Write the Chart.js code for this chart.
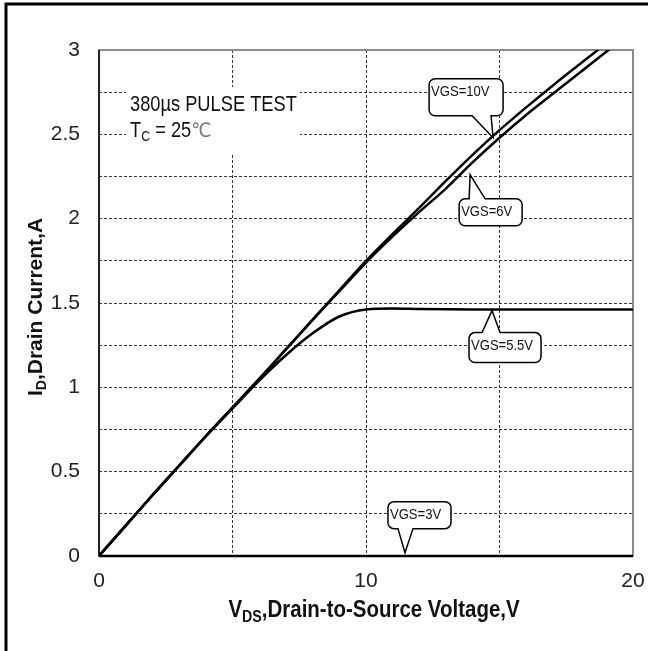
<!DOCTYPE html>
<html lang="en">
<head>
    <meta charset="UTF-8">
    <title>ID vs VDS</title>
    <style>
        * { margin: 0; padding: 0; box-sizing: border-box; }
        body { background: #fff; width: 648px; height: 651px; overflow: hidden; }
        canvas { display: block; }
    </style>
</head>
<body>
    <canvas id="chart" width="648" height="651"></canvas>

    <script src="https://cdn.jsdelivr.net/npm/chart.js"></script>
    <script>
        // values
        const vds = [0, 1, 2, 3, 4, 5, 6, 7, 8, 9, 10, 11, 12, 13, 14, 15, 16, 17, 18, 19, 20];
        const idVgs10 = [0, 0.18, 0.36, 0.535, 0.71, 0.88, 1.05, 1.225, 1.40, 1.575, 1.75, 1.91, 2.065, 2.225, 2.38, 2.525, 2.66, 2.79, 2.915, 3.04, 3.165];
        const idVgs6 = [0, 0.18, 0.36, 0.535, 0.71, 0.88, 1.05, 1.225, 1.40, 1.57, 1.74, 1.895, 2.04, 2.18, 2.335, 2.48, 2.615, 2.74, 2.865, 2.99, 3.11];
        const idVgs55 = [0, 0.18, 0.36, 0.535, 0.71, 0.875, 1.04, 1.19, 1.32, 1.42, 1.462, 1.468, 1.465, 1.463, 1.462, 1.462, 1.462, 1.461, 1.461, 1.461, 1.461];
        const idVgs3 = [0, 0, 0, 0, 0, 0, 0, 0, 0, 0, 0, 0, 0, 0, 0, 0, 0, 0, 0, 0, 0];
        const seriesNames = ['VGS=10V', 'VGS=6V', 'VGS=5.5V', 'VGS=3V'];
        const xTickLabels = [0, 10, 20];
        const yTickLabels = [0, 0.5, 1, 1.5, 2, 2.5, 3];

        const toPoints = arr => vds.map((v, i) => ({ x: v, y: arr[i] }));
        const series = [idVgs10, idVgs6, idVgs55, idVgs3];

        // callout boxes: tip in data units, box/base offsets in px from the tip
        const callouts = [
            { tip: [14.76, 2.48], box: [-64, -59, 10, -22], base: [-21, -2], side: 'bottom' },
            { tip: [13.9, 2.26], box: [-11, 24, 52, 51], base: [-1, 15], side: 'top' },
            { tip: [14.72, 1.455], box: [-23, 22, 49, 52], base: [-10, 8], side: 'top' },
            { tip: [11.46, 0.02], box: [-17, -51, 46, -24], base: [-7, 8], side: 'bottom' }
        ];

        function calloutPath(ctx, l, t, r, b, rad, side, b1, b2, tx, ty) {
            ctx.beginPath();
            ctx.moveTo(l + rad, t);
            if (side === 'top') {
                ctx.lineTo(b1, t);
                ctx.lineTo(tx, ty);
                ctx.lineTo(b2, t);
            }
            ctx.arcTo(r, t, r, b, rad);
            ctx.arcTo(r, b, l, b, rad);
            if (side === 'bottom') {
                ctx.lineTo(b2, b);
                ctx.lineTo(tx, ty);
                ctx.lineTo(b1, b);
            }
            ctx.arcTo(l, b, l, t, rad);
            ctx.arcTo(l, t, r, t, rad);
            ctx.closePath();
        }

        // text squeezed horizontally (the reference fonts are narrow)
        function drawText(ctx, text, x, y, font, sx) {
            ctx.save();
            ctx.font = font;
            ctx.translate(x, y);
            ctx.scale(sx, 1);
            ctx.fillText(text, 0, 0);
            const w = ctx.measureText(text).width * sx;
            ctx.restore();
            return w;
        }
        function textWidth(ctx, text, font, sx) {
            ctx.save();
            ctx.font = font;
            const w = ctx.measureText(text).width * sx;
            ctx.restore();
            return w;
        }

        const decor = {
            id: 'decor',
            beforeDraw(chart) {
                const ctx = chart.ctx;
                ctx.save();
                ctx.fillStyle = '#fff';
                ctx.fillRect(0, 0, chart.width, chart.height);
                // outer frame (only top and left show)
                ctx.strokeStyle = '#000';
                ctx.lineWidth = 3;
                ctx.beginPath();
                ctx.moveTo(6, chart.height);
                ctx.lineTo(6, 4);
                ctx.lineTo(chart.width, 4);
                ctx.stroke();
                ctx.restore();
            },
            beforeDatasetsDraw(chart) {
                const ctx = chart.ctx;
                const a = chart.chartArea;
                ctx.save();
                // white box behind the test note
                ctx.fillStyle = '#fff';
                ctx.fillRect(126, 87, 174, 66);
                ctx.strokeStyle = '#8c8c8c';
                ctx.lineWidth = 2;
                ctx.strokeRect(a.left, a.top, a.right - a.left, a.bottom - a.top);
                ctx.strokeStyle = '#000';
                ctx.lineWidth = 1.5;
                ctx.beginPath();
                ctx.moveTo(a.left, a.top);
                ctx.lineTo(a.left, a.bottom);
                ctx.stroke();
                ctx.restore();
            },
            afterDatasetsDraw(chart) {
                const ctx = chart.ctx;
                const xs = chart.scales.x, ys = chart.scales.y;
                ctx.save();

                // callouts
                callouts.forEach((c, i) => {
                    const tx = xs.getPixelForValue(c.tip[0]);
                    const ty = ys.getPixelForValue(c.tip[1]);
                    const l = tx + c.box[0], t = ty + c.box[1], r = tx + c.box[2], b = ty + c.box[3];
                    calloutPath(ctx, l, t, r, b, 6, c.side, tx + c.base[0], tx + c.base[1], tx, ty);
                    ctx.fillStyle = '#fff';
                    ctx.fill();
                    ctx.strokeStyle = '#000';
                    ctx.lineWidth = 1.5;
                    ctx.stroke();
                    ctx.fillStyle = '#111';
                    ctx.textAlign = 'left';
                    ctx.textBaseline = 'middle';
                    drawText(ctx, seriesNames[i], l + 2, t + 13, '15px "Liberation Sans", sans-serif', 0.87);
                });

                // test conditions
                ctx.textAlign = 'left';
                ctx.textBaseline = 'alphabetic';
                ctx.fillStyle = '#111';
                const note = '22px "Liberation Sans", sans-serif';
                const noteSub = '15px "Liberation Sans", sans-serif';
                drawText(ctx, '380µs PULSE TEST', 130, 111, note, 0.83);
                let x = 130;
                x += drawText(ctx, 'T', x, 137, note, 0.83);
                x += drawText(ctx, 'C', x, 141, noteSub, 0.83);
                x += drawText(ctx, ' = 25', x, 137, note, 0.83);
                ctx.fillStyle = '#777';
                drawText(ctx, '℃', x, 137, '20px "DejaVu Sans", sans-serif', 0.9);

                // x axis title with subscript
                ctx.fillStyle = '#111';
                const big = 'bold 23px "Liberation Sans", sans-serif';
                const small = 'bold 16px "Liberation Sans", sans-serif';
                const rest = ',Drain-to-Source Voltage,V';
                const sx = 0.89;
                const total = textWidth(ctx, 'V', big, sx) + textWidth(ctx, 'DS', small, sx) + textWidth(ctx, rest, big, sx);
                x = (xs.left + xs.right) / 2 + 8 - total / 2;
                x += drawText(ctx, 'V', x, 617, big, sx);
                x += drawText(ctx, 'DS', x, 622, small, sx);
                drawText(ctx, rest, x, 617, big, sx);

                // y axis title, rotated
                ctx.translate(42, 307);
                ctx.rotate(-Math.PI / 2);
                const ybig = 'bold 21px "Liberation Sans", sans-serif';
                const ysmall = 'bold 14px "Liberation Sans", sans-serif';
                const yrest = ',Drain Current,A';
                const ytotal = textWidth(ctx, 'I', ybig, 1) + textWidth(ctx, 'D', ysmall, 1) + textWidth(ctx, yrest, ybig, 1);
                x = -ytotal / 2;
                x += drawText(ctx, 'I', x, 0, ybig, 1);
                x += drawText(ctx, 'D', x, 4, ysmall, 1);
                drawText(ctx, yrest, x, 0, ybig, 1);
                ctx.restore();
            }
        };

        const chart = new Chart(document.getElementById('chart'), {
            type: 'line',
            data: {
                datasets: series.map((arr, i) => ({
                    label: seriesNames[i],
                    data: toPoints(arr),
                    borderColor: '#000',
                    borderWidth: 2.5,
                    pointRadius: 0,
                    fill: false,
                    cubicInterpolationMode: 'monotone',
                    clip: { left: 0, top: 0, right: 0, bottom: 5 }
                }))
            },
            options: {
                responsive: false,
                animation: false,
                layout: { padding: { top: 50, right: 15, left: 0, bottom: 0 } },
                plugins: { legend: { display: false }, tooltip: { enabled: false } },
                scales: {
                    x: {
                        type: 'linear',
                        min: 0,
                        max: 20,
                        afterFit(s) { s.height = 95; s.paddingLeft = 0; s.paddingRight = 0; },
                        grid: { color: '#333', lineWidth: 1, drawTicks: false },
                        border: { display: false, dash: [3, 2] },
                        ticks: {
                            stepSize: 5,
                            padding: 13,
                            color: '#222',
                            font: { family: '"Liberation Sans", sans-serif', size: 21 },
                            callback: v => xTickLabels.includes(v) ? String(v) : ''
                        }
                    },
                    y: {
                        min: 0,
                        max: 3,
                        afterFit(s) { s.width = 99; s.paddingTop = 0; s.paddingBottom = 0; },
                        grid: { color: '#333', lineWidth: 1, drawTicks: false },
                        border: { display: false, dash: [3, 2] },
                        ticks: {
                            stepSize: 0.25,
                            padding: 19,
                            color: '#222',
                            font: { family: '"Liberation Sans", sans-serif', size: 21 },
                            callback: v => yTickLabels.includes(v) ? String(v) : ''
                        }
                    }
                }
            },
            plugins: [decor]
        });
    </script>
</body>
</html>
